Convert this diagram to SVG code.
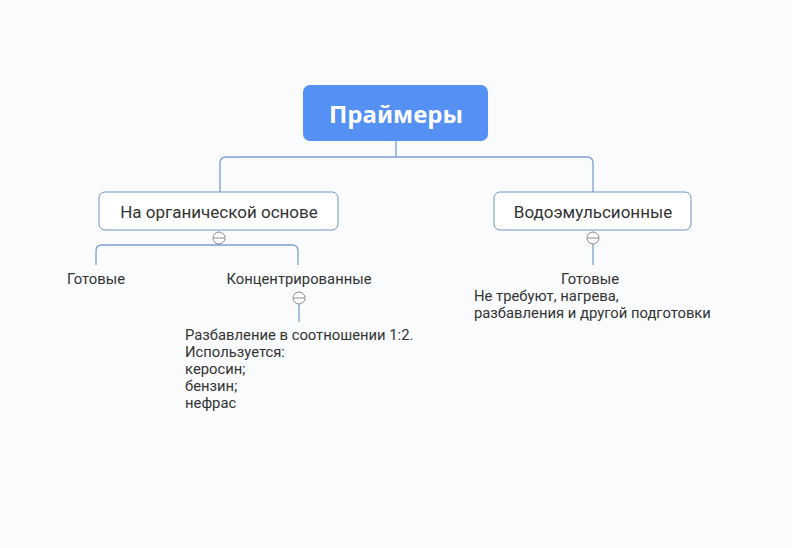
<svg xmlns="http://www.w3.org/2000/svg" width="792" height="548" viewBox="0 0 792 548">
<style>
.bg{fill:#f9fbfd}
.t{font-family:Roboto,"Noto Sans","Liberation Sans",sans-serif;fill:#333;font-size:14.8px}
.m{font-size:17px}
.root{font-family:"Noto Sans","Open Sans","Liberation Sans",sans-serif;font-weight:bold;font-size:24px;fill:#fff}
.box{fill:#fff;stroke:#6e93c8;stroke-width:1}
.ln{fill:none;stroke:#7d9fd2;stroke-width:1.3}
.col{fill:#fff;stroke:#888;stroke-width:1}
</style>
<rect class="bg" width="792" height="548"/>
<g id="connectors">
<path class="ln" d="M396 141V157M220 192V163Q220 157 226 157H587Q593 157 593 163V192"/>
<path class="ln" d="M219 244V245M96 265V251Q96 245 102 245H292Q298 245 298 251V265"/>
<path class="ln" d="M299 304V322"/>
<path class="ln" d="M593 244V265"/>
</g>
<g id="root">
<rect x="303" y="85" width="185" height="56" rx="7" fill="#5590f5"/>
<text class="root" x="396" y="123" text-anchor="middle">Праймеры</text>
</g>
<g id="organic">
<rect class="box" x="99" y="192" width="239" height="38" rx="6"/>
<text class="t m" x="219" y="218" text-anchor="middle">На органической основе</text>
<circle class="col" cx="219" cy="238" r="6"/>
<line x1="214" y1="238" x2="224" y2="238" stroke="#888"/>
</g>
<g id="ready1">
<text class="t" x="96" y="284" text-anchor="middle">Готовые</text>
</g>
<g id="concentrated">
<text class="t" x="299" y="284" text-anchor="middle">Концентрированные</text>
<circle class="col" cx="299" cy="298" r="6"/>
<line x1="294" y1="298" x2="304" y2="298" stroke="#888"/>
</g>
<g id="dilution">
<text class="t" x="185" y="340">Разбавление в соотношении 1:2.</text>
<text class="t" x="185" y="357">Используется:</text>
<text class="t" x="185" y="374">керосин;</text>
<text class="t" x="185" y="391">бензин;</text>
<text class="t" x="185" y="408">нефрас</text>
</g>
<g id="water">
<rect class="box" x="494" y="192" width="197" height="38" rx="6"/>
<text class="t m" x="593" y="218" text-anchor="middle">Водоэмульсионные</text>
<circle class="col" cx="593" cy="238" r="6"/>
<line x1="588" y1="238" x2="598" y2="238" stroke="#888"/>
</g>
<g id="ready2">
<text class="t" x="590" y="284" text-anchor="middle">Готовые</text>
<text class="t" x="474" y="301">Не требуют, нагрева,</text>
<text class="t" x="474" y="318">разбавления и другой подготовки</text>
</g>
</svg>
